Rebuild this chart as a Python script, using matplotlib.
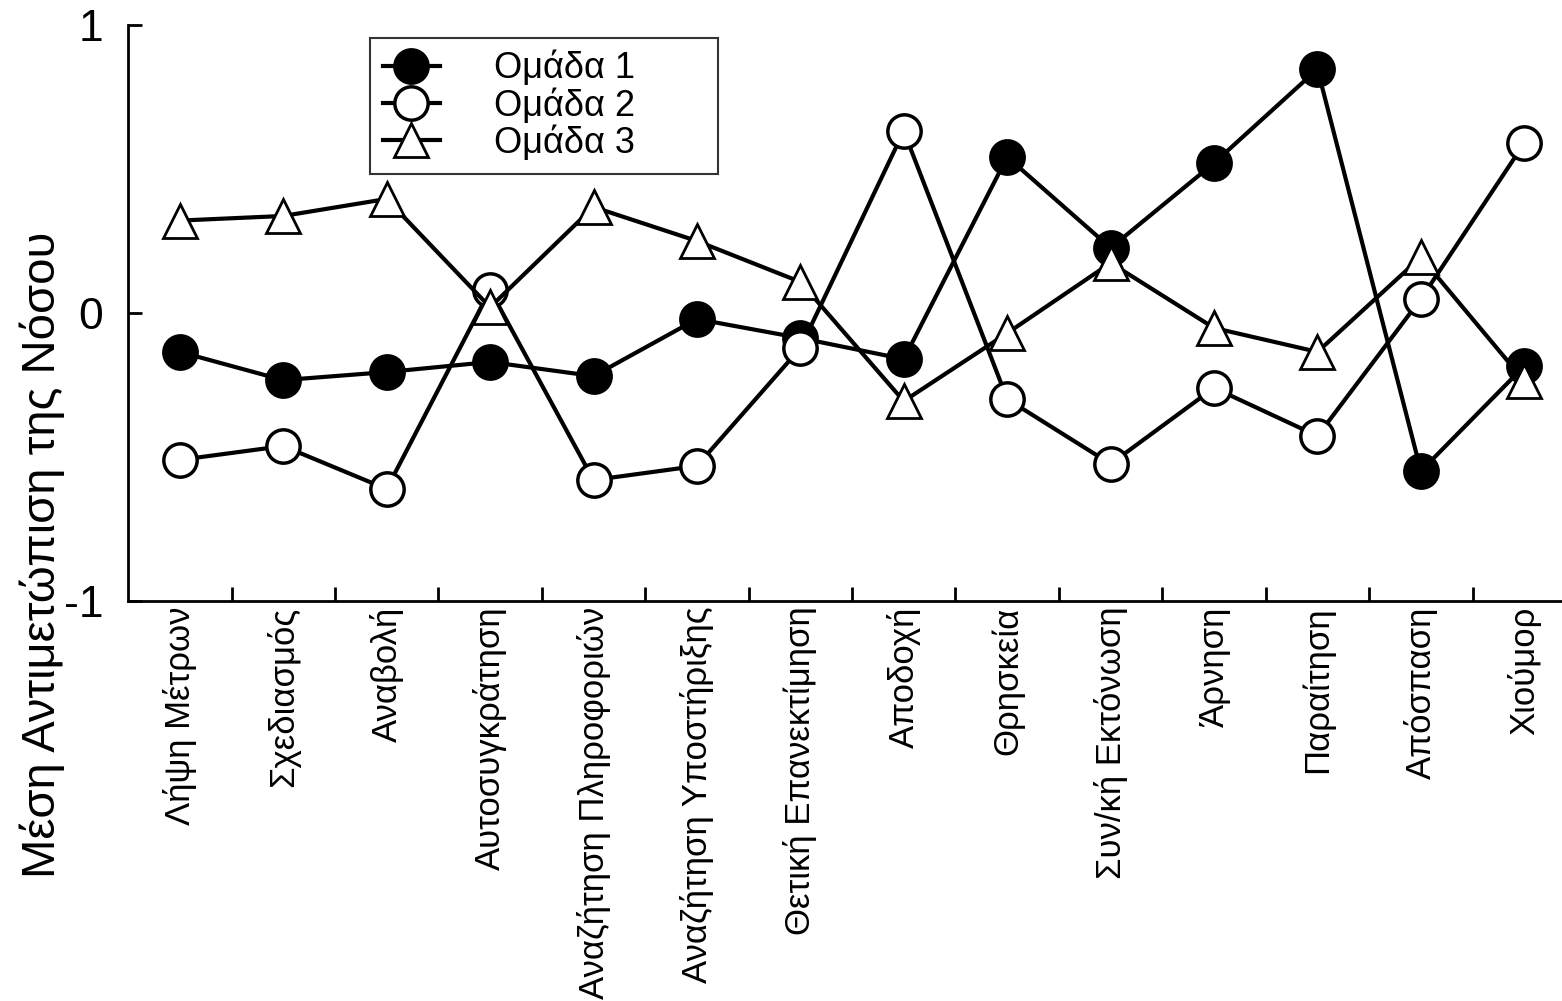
import numpy as np
import matplotlib.pyplot as plt

plt.rcParams['font.family'] = ['Liberation Sans', 'DejaVu Sans']

categories = ['Λήψη Μέτρων', 'Σχεδιασμός', 'Αναβολή', 'Αυτοσυγκράτηση',
              'Αναζήτηση Πληροφοριών', 'Αναζήτηση Υποστήριξης',
              'Θετική Επανεκτίμηση', 'Αποδοχή', 'Θρησκεία', 'Συν/κή Εκτόνωση',
              'Άρνηση', 'Παραίτηση', 'Απόσπαση', 'Χιούμορ']

group1 = [-0.135, -0.233, -0.205, -0.17, -0.219, -0.021, -0.087, -0.16,
          0.542, 0.226, 0.521, 0.847, -0.549, -0.184]
group2 = [-0.51, -0.462, -0.611, 0.08, -0.58, -0.531, -0.122, 0.632,
          -0.299, -0.524, -0.26, -0.427, 0.049, 0.59]
group3 = [0.321, 0.337, 0.396, 0.02, 0.368, 0.25, 0.108, -0.306,
          -0.07, 0.174, -0.052, -0.135, 0.194, -0.236]

labels = ['Ομάδα 1', 'Ομάδα 2', 'Ομάδα 3']

x = np.arange(len(categories))

fig = plt.figure(figsize=(15.62, 10.01), dpi=100)
ax = fig.add_axes([0.082, 0.3996, 0.927, 0.5754])

lw = 3
ms = 24
ax.plot(x, group1, color='black', lw=lw, marker='o', ms=ms,
        mfc='black', mec='black', mew=2.5, label=labels[0], zorder=3)
ax.plot(x, group2, color='black', lw=lw, marker='o', ms=ms,
        mfc='white', mec='black', mew=2.5, label=labels[1], zorder=3)
ax.plot(x, group3, color='black', lw=lw, marker='^', ms=ms,
        mfc='white', mec='black', mew=2, label=labels[2], zorder=3)

ax.set_xlim(-0.5, 13.5)
ax.set_ylim(-1, 1)
ax.set_yticks([-1, 0, 1])
ax.set_yticklabels(['-1', '0', '1'])
ax.set_xticks(x)
ax.set_xticklabels(categories, rotation=90, fontsize=25)
ax.set_xticks(np.arange(0.5, 13, 1), minor=True)
ax.tick_params(axis='x', which='major', length=0, pad=4)
ax.tick_params(axis='x', which='minor', direction='in', length=10, width=2)
ax.tick_params(axis='y', direction='in', length=10, width=2, labelsize=32, pad=18)

for s in ['top', 'right']:
    ax.spines[s].set_visible(False)
for s in ['left', 'bottom']:
    ax.spines[s].set_linewidth(2)

# y label sits lower than the axes centre in the original
fig.text(42 / 1562, 1 - 555 / 1001, 'Μέση Αντιμετώπιση της Νόσου',
         rotation=90, ha='center', va='center', fontsize=34)

leg = ax.legend(loc='upper left', bbox_to_anchor=(0.167, 0.5, 0.2403, 0.477),
                mode='expand', borderaxespad=0, fontsize=26, frameon=True,
                fancybox=False, handlelength=1.6, handletextpad=1.5,
                labelspacing=0.05, borderpad=0.35, markerscale=1.0)
leg.get_frame().set_edgecolor('black')
leg.get_frame().set_linewidth(1.5)

fig.savefig('out.png', dpi=100)
